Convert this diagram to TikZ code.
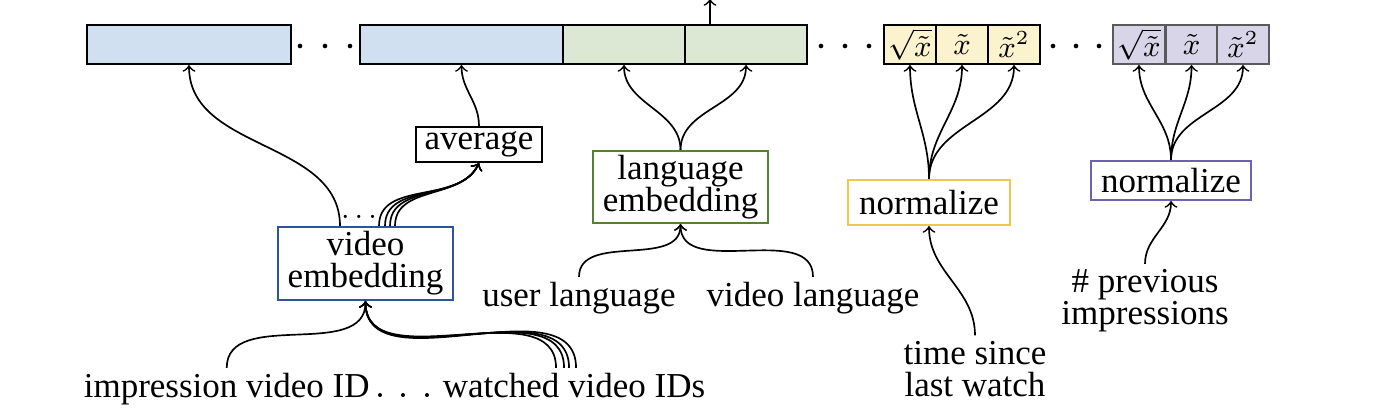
\documentclass[tikz,border=0pt]{standalone}
\usepackage{fontspec}
\setmainfont{Liberation Serif}
\usetikzlibrary{calc}
\definecolor{vidfill}{RGB}{208,224,240}
\definecolor{langfill}{RGB}{221,232,212}
\definecolor{timefill}{RGB}{251,242,206}
\definecolor{prevfill}{RGB}{217,213,232}
\definecolor{vidline}{RGB}{47,84,150}
\definecolor{langline}{RGB}{84,130,53}
\definecolor{timeline}{RGB}{240,198,80}
\definecolor{prevline}{RGB}{112,96,176}
\definecolor{prevcell}{RGB}{90,90,90}

\begin{document}
\begin{tikzpicture}[>=to, x=0.3pt, y=0.3pt, line width=0.5pt,
    cell/.style={draw, line width=0.6pt, minimum height=11.7pt, minimum width=15.6pt,
      inner sep=0pt, font=\fontsize{9}{10}\selectfont},
    box/.style={draw, line width=0.6pt, align=center, inner sep=0pt,
      font=\fontsize{10.5}{9.6}\selectfont},
    lbl/.style={align=center, inner xsep=0pt, inner ysep=1.5pt,
      font=\fontsize{10.5}{9.6}\selectfont}]
  \useasboundingbox (0,0) rectangle (1376,418);
  % feature vector
  \node[cell, fill=vidfill, minimum width=61.2pt] (v1) at (189,373.5) {};
  \node[cell, fill=vidfill, minimum width=60.9pt] (v2) at (461.5,373.5) {};
  \node[cell, fill=langfill, minimum width=36.6pt] (g1) at (624,373.5) {};
  \node[cell, fill=langfill, minimum width=36.6pt] (g2) at (746,373.5) {};
  \node[cell, fill=timefill] (t1) at (910,373.5) {$\sqrt{\tilde{x}}$};
  \node[cell, fill=timefill] (t2) at (962,373.5) {$\tilde{x}$};
  \node[cell, fill=timefill] (t3) at (1014,373.5) {$\tilde{x}^2$};
  \node[cell, fill=prevfill, draw=prevcell] (p1) at (1139,373.5) {$\sqrt{\tilde{x}}$};
  \node[cell, fill=prevfill, draw=prevcell] (p2) at (1191.5,373.5) {$\tilde{x}$};
  \node[cell, fill=prevfill, draw=prevcell] (p3) at (1243,373.5) {$\tilde{x}^2$};
  \foreach \x in {300,325,350,821,845,869,1053,1076,1099}
    \fill (\x,372) circle (0.7pt);
  \coordinate (out) at (710,419);
  \draw[->] (g2.north -| out) -- (out);
  % boxes
  \node[box, minimum width=37.8pt, minimum height=10.5pt] (avg) at (479,273.5) {average};
  \node[box, draw=vidline, minimum width=52.5pt, minimum height=21.9pt] (vid) at (365.5,154.5) {video\\embedding};
  \node[box, draw=langline, minimum width=52.5pt, minimum height=21.6pt] (lang) at (680.5,231) {language\\embedding};
  \node[box, draw=timeline, minimum width=48.6pt, minimum height=13.5pt] (tnorm) at (929,215.5) {normalize};
  \node[box, draw=prevline, minimum width=48pt, minimum height=11.7pt] (pnorm) at (1171,237.5) {normalize};
  % inputs
  \node[lbl, anchor=base west] (imp) at (83,20) {impression video ID};
  \node[lbl, anchor=base west] (wat) at (442,20) {watched video IDs};
  \foreach \x in {380,403,427}
    \fill (\x,23) circle (0.6pt);
  \node[lbl, anchor=base] (ulang) at (579,111) {user language};
  \node[lbl, anchor=base] (vlang) at (813,111) {video language};
  \node[lbl] (since) at (975,49) {time since\\last watch};
  \node[lbl] (prev) at (1145,117) {\# previous\\impressions};
  \node[anchor=base, inner sep=0pt, font=\small] (more) at ($(vid.north)+(-6.5,7)$) {$\dots$};
  % video embedding
  \draw[->] ($(vid.north)+(-25.5,0)$) to[out=90,in=-90] (v1.south);
  \foreach \d in {13.5,19.5,24.5,29.5}
    \draw[->] ($(vid.north)+(\d,0)$) to[out=90,in=-115] (avg.south);
  \draw[->] (avg.north) to[out=90,in=-90] (v2.south);
  \draw[->] (imp.north) to[out=90,in=-90] (vid.south);
  \foreach \d in {-18,-10,-5,2}
    \draw[->] ($(wat.north)+(\d,0)$) to[out=90,in=-90] (vid.south);
  % language embedding
  \draw[->] (ulang.north) to[out=90,in=-90] (lang.south);
  \draw[->] (vlang.north) to[out=90,in=-90] (lang.south);
  \draw[->] (lang.north) to[out=90,in=-90] (g1.south);
  \draw[->] (lang.north) to[out=90,in=-90] (g2.south);
  % time since last watch
  \draw[->] (since.north) to[out=90,in=-90] (tnorm.south);
  \foreach \c in {t1,t2,t3}
    \draw[->] (tnorm.north) to[out=90,in=-90] (\c.south);
  % previous impressions
  \draw[->] (prev.north) to[out=90,in=-90] (pnorm.south);
  \foreach \c in {p1,p2,p3}
    \draw[->] (pnorm.north) to[out=90,in=-90] (\c.south);
\end{tikzpicture}
\end{document}
